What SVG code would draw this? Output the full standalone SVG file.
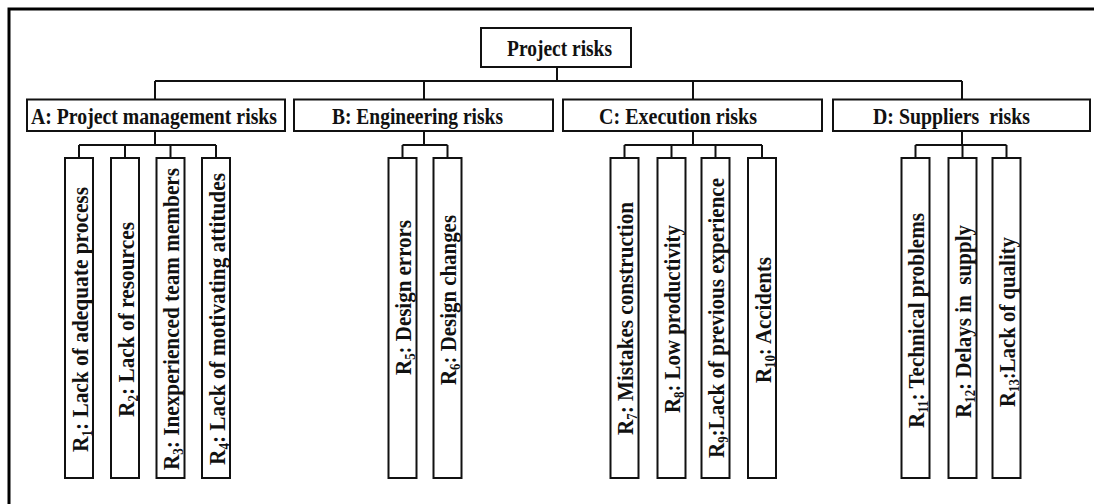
<svg xmlns="http://www.w3.org/2000/svg" width="1094" height="504" viewBox="0 0 1094 504">
  <style>
    .box { fill: #ffffff; stroke: #111111; stroke-width: 2; }
    .link { fill: none; stroke: #111111; stroke-width: 2; }
    .head { font-family: "Liberation Serif", "Times New Roman", serif; font-weight: bold; font-size: 22.5px; fill: #111111; white-space: pre; }
    .risk { font-family: "Liberation Serif", "Times New Roman", serif; font-weight: bold; font-size: 23px; fill: #111111; white-space: pre; }
    .sub { font-size: 14px; }
  </style>
  <rect x="0" y="0" width="1094" height="504" fill="#ffffff"/>
  <!-- outer frame (open to the right and bottom) -->
  <path d="M9,504 V9 H1094" fill="none" stroke="#000000" stroke-width="3"/>

  <g id="connectors">
    <path class="link" d="M557,67 V81 M155,81 H962 M155,81 V99 M424,81 V100 M693,81 V100 M962,81 V100"/>
    <!-- A branch -->
    <path class="link" d="M155,131 V145 M79,145 H216 M79,145 V158 M125,145 V158 M170.5,145 V158 M216,145 V158"/>
    <!-- B branch -->
    <path class="link" d="M424,131 V145 M402.5,145 H447.5 M402.5,145 V158 M447.5,145 V158"/>
    <!-- C branch -->
    <path class="link" d="M693,131 V145 M624.5,145 H762 M624.5,145 V158 M671.5,145 V158 M715.5,145 V158 M762,145 V158"/>
    <!-- D branch -->
    <path class="link" d="M962,131 V145 M915.5,145 H1006.5 M915.5,145 V158 M962.5,145 V158 M1006.5,145 V158"/>
  </g>

  <g id="root">
    <rect class="box" x="481" y="28" width="150" height="39"/>
    <text class="head" x="507" y="55.5" textLength="105" lengthAdjust="spacingAndGlyphs">Project risks</text>
  </g>

  <g id="cat-a">
    <rect class="box" x="27" y="99.5" width="258" height="31.5"/>
    <text class="head" x="31" y="123.5" textLength="246" lengthAdjust="spacingAndGlyphs">A: Project management risks</text>
  </g>
  <g id="cat-b">
    <rect class="box" x="294" y="99.5" width="259" height="31.5"/>
    <text class="head" x="332" y="123.5" textLength="171" lengthAdjust="spacingAndGlyphs">B: Engineering risks</text>
  </g>
  <g id="cat-c">
    <rect class="box" x="563" y="99.5" width="259" height="31.5"/>
    <text class="head" x="599" y="123.5" textLength="158" lengthAdjust="spacingAndGlyphs">C: Execution risks</text>
  </g>
  <g id="cat-d">
    <rect class="box" x="833" y="99.5" width="257" height="31.5"/>
    <text class="head" x="873" y="123.5" textLength="157" lengthAdjust="spacingAndGlyphs">D: Suppliers  risks</text>
  </g>

  <!-- A: project management risks -->
  <g id="r1">
    <rect class="box" x="65" y="158" width="28" height="320"/>
    <text class="risk" text-anchor="middle" transform="translate(87.5,319.5) rotate(-90)" textLength="265" lengthAdjust="spacingAndGlyphs">R<tspan class="sub" dy="4">1</tspan><tspan dy="-4">: Lack of adequate process</tspan></text>
  </g>
  <g id="r2">
    <rect class="box" x="111" y="158" width="28" height="320"/>
    <text class="risk" text-anchor="middle" transform="translate(133.5,319.5) rotate(-90)" textLength="195" lengthAdjust="spacingAndGlyphs">R<tspan class="sub" dy="4">2</tspan><tspan dy="-4">: Lack of resources</tspan></text>
  </g>
  <g id="r3">
    <rect class="box" x="156.5" y="158" width="28" height="320"/>
    <text class="risk" text-anchor="middle" transform="translate(179,319) rotate(-90)" textLength="302" lengthAdjust="spacingAndGlyphs">R<tspan class="sub" dy="4">3</tspan><tspan dy="-4">: Inexperienced team members</tspan></text>
  </g>
  <g id="r4">
    <rect class="box" x="202" y="158" width="28" height="320"/>
    <text class="risk" text-anchor="middle" transform="translate(224.5,319) rotate(-90)" textLength="292" lengthAdjust="spacingAndGlyphs">R<tspan class="sub" dy="4">4</tspan><tspan dy="-4">: Lack of motivating attitudes</tspan></text>
  </g>

  <!-- B: engineering risks -->
  <g id="r5">
    <rect class="box" x="388.5" y="158" width="28" height="320"/>
    <text class="risk" text-anchor="middle" transform="translate(411,297.5) rotate(-90)" textLength="155" lengthAdjust="spacingAndGlyphs">R<tspan class="sub" dy="4">5</tspan><tspan dy="-4">: Design errors</tspan></text>
  </g>
  <g id="r6">
    <rect class="box" x="433.5" y="158" width="28" height="320"/>
    <text class="risk" text-anchor="middle" transform="translate(456,300) rotate(-90)" textLength="170" lengthAdjust="spacingAndGlyphs">R<tspan class="sub" dy="4">6</tspan><tspan dy="-4">: Design changes</tspan></text>
  </g>

  <!-- C: execution risks -->
  <g id="r7">
    <rect class="box" x="610.5" y="158" width="28" height="320"/>
    <text class="risk" text-anchor="middle" transform="translate(633,318.5) rotate(-90)" textLength="233" lengthAdjust="spacingAndGlyphs">R<tspan class="sub" dy="4">7</tspan><tspan dy="-4">: Mistakes construction</tspan></text>
  </g>
  <g id="r8">
    <rect class="box" x="657.5" y="158" width="28" height="320"/>
    <text class="risk" text-anchor="middle" transform="translate(680,319) rotate(-90)" textLength="188" lengthAdjust="spacingAndGlyphs">R<tspan class="sub" dy="4">8</tspan><tspan dy="-4">: Low productivity</tspan></text>
  </g>
  <g id="r9">
    <rect class="box" x="701.5" y="158" width="28" height="320"/>
    <text class="risk" text-anchor="middle" transform="translate(724,318) rotate(-90)" textLength="280" lengthAdjust="spacingAndGlyphs">R<tspan class="sub" dy="4">9</tspan><tspan dy="-4">:Lack of previous experience</tspan></text>
  </g>
  <g id="r10">
    <rect class="box" x="748" y="158" width="28" height="320"/>
    <text class="risk" text-anchor="middle" transform="translate(770.5,320) rotate(-90)" textLength="126" lengthAdjust="spacingAndGlyphs">R<tspan class="sub" dy="4">10</tspan><tspan dy="-4">: Accidents</tspan></text>
  </g>

  <!-- D: suppliers risks -->
  <g id="r11">
    <rect class="box" x="901.5" y="158" width="28" height="320"/>
    <text class="risk" text-anchor="middle" transform="translate(924,320.5) rotate(-90)" textLength="215" lengthAdjust="spacingAndGlyphs">R<tspan class="sub" dy="4">11</tspan><tspan dy="-4">: Technical problems</tspan></text>
  </g>
  <g id="r12">
    <rect class="box" x="948.5" y="158" width="28" height="320"/>
    <text class="risk" text-anchor="middle" transform="translate(971,321.5) rotate(-90)" textLength="193" lengthAdjust="spacingAndGlyphs">R<tspan class="sub" dy="4">12</tspan><tspan dy="-4">: Delays in  supply</tspan></text>
  </g>
  <g id="r13">
    <rect class="box" x="992.5" y="158" width="28" height="320"/>
    <text class="risk" text-anchor="middle" transform="translate(1015,322) rotate(-90)" textLength="170" lengthAdjust="spacingAndGlyphs">R<tspan class="sub" dy="4">13</tspan><tspan dy="-4">:Lack of quality</tspan></text>
  </g>
</svg>
